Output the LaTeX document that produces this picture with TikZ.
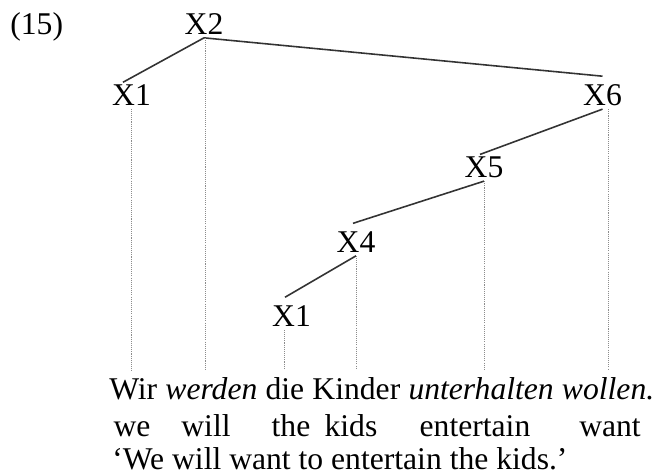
\documentclass[tikz,border=0pt]{standalone}
\usepackage{fontspec}
\setmainfont{Liberation Serif}
\usetikzlibrary{positioning, calc}
\definecolor{cline}{HTML}{333333}
\definecolor{cdot}{HTML}{8C8C8C}
\tikzset{
  every picture/.style={font=\fontsize{18}{21}\selectfont},
  cat/.style={inner sep=0.05cm, anchor=base},
  word/.style={inner sep=0pt, anchor=base},
  branch/.style={draw=cline, line width=0.9pt},
  leaf/.style={draw=cdot, line width=0.55pt, dash pattern=on 0.6pt off 0.6pt, shorten >=0.16cm},
}

\begin{document}
\begin{tikzpicture}[x=1cm, y=1cm, node distance=0.15cm]
  \useasboundingbox (0,0) rectangle (13.16,9.5);
  \node[word, anchor=base west] (num) at (0.2,8.8) {(15)};
  % tree
  \node[cat] (x2) at (4.08,8.8) {X2};
  \node[cat] (x1a) at (2.63,7.38) {X1};
  \node[cat] (x6) at (12.05,7.38) {X6};
  \node[cat] (x5) at (9.68,5.94) {X5};
  \node[cat] (x4) at (7.12,4.44) {X4};
  \node[cat] (x1b) at (5.83,2.96) {X1};
  \draw[branch] (x2.south) -- ($(x1a.north)+(-0.17,0)$);
  \draw[branch] (x2.south) -- ($(x6.north)+(0,0.12)$);
  \draw[branch] (x6.south) -- ($(x5.north)+(-0.08,0)$);
  \draw[branch] (x5.south) -- ($(x4.north)+(-0.06,0.12)$);
  \draw[branch] (x4.south) -- ($(x1b.north)+(-0.13,0.12)$);
  % sentence
  \node[word, anchor=base west] (wir) at (2.18,1.5) {Wir};
  \node[word, base right=of wir] (werden) {\textit{werden}};
  \node[word, base right=of werden] (die) {die};
  \node[word, base right=of die] (kinder) {Kinder};
  \node[word, base right=of kinder] (unterhalten) {\textit{unterhalten}};
  \node[word, base right=of unterhalten] (wollen) {\textit{wollen.}};
  \foreach \w/\t/\dx in {wir/x1a/-0.04, werden/x2/-0.12, die/x1b/0, kinder/x4/0, unterhalten/x5/0.06, wollen/x6/0}
    \draw[leaf] ($(\w.north |- \t.south)+(\dx,0)$) -- ($(\w.north)+(\dx,0)$);
  % gloss and translation
  \foreach \g/\x in {we/2.64, will/4.12, the/5.82, kids/7.02, entertain/9.5, want/12.2}
    \node[word] (gl-\g) at (\x,0.76) {\g};
  \node[word, anchor=base west] (trans) at (2.24,0.1) {‘We will want to entertain the kids.’};
\end{tikzpicture}
\end{document}
